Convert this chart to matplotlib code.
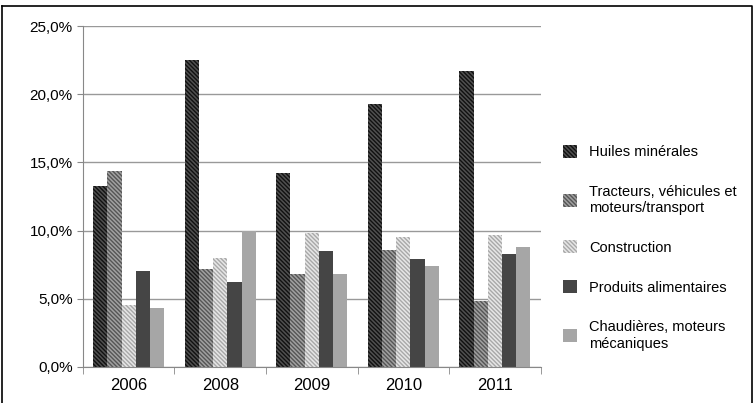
import numpy as np
import matplotlib.pyplot as plt
from matplotlib.ticker import FuncFormatter

years = ['2006', '2008', '2009', '2010', '2011']
huiles = [13.3, 22.5, 14.2, 19.3, 21.7]
tracteurs = [14.4, 7.2, 6.8, 8.6, 4.8]
construction = [4.5, 8.0, 9.8, 9.5, 9.7]
alimentaires = [7.0, 6.2, 8.5, 7.9, 8.3]
chaudieres = [4.3, 10.0, 6.8, 7.4, 8.8]

labels = ['Huiles minérales', 'Tracteurs, véhicules et\nmoteurs/transport',
          'Construction', 'Produits alimentaires',
          'Chaudières, moteurs\nmécaniques']
series = [huiles, tracteurs, construction, alimentaires, chaudieres]
styles = [('#505050', '#111111', '\\' * 8),
          ('#a0a0a0', '#555555', '\\' * 8),
          ('#e6e6e6', '#a8a8a8', '\\' * 8),
          ('#454545', '#454545', ''),
          ('#a6a6a6', '#a6a6a6', '')]

plt.rcParams['font.family'] = ['Liberation Sans', 'DejaVu Sans']
plt.rcParams['hatch.linewidth'] = 1.0
fig = plt.figure(figsize=(7.54, 4.03), dpi=100)
ax = fig.add_axes([0.11, 0.09, 0.607, 0.845])

x = np.arange(len(years))
w = 0.155
for i, (vals, (fc, ec, h)) in enumerate(zip(series, styles)):
    plt.rcParams['hatch.color'] = ec
    ax.bar(x + (i - 2) * w, vals, w, facecolor=fc, edgecolor=ec, hatch=h,
           linewidth=0, label=labels[i])

ax.set_ylim(0, 25)
ax.set_xlim(-0.5, 4.5)
ax.set_yticks(np.arange(0, 26, 5))
ax.yaxis.set_major_formatter(FuncFormatter(lambda v, p: f'{v:.1f}%'.replace('.', ',')))
ax.set_xticks(x)
ax.set_xticklabels(years, fontsize=12)
ax.set_xticks(np.arange(-0.5, 5, 1), minor=True)
ax.tick_params(axis='x', which='major', length=0, pad=8)
ax.tick_params(axis='x', which='minor', length=5, color='#888888')
ax.tick_params(axis='y', labelsize=11, length=4, color='#888888')
ax.grid(axis='y', color='#999999', linewidth=1)
ax.set_axisbelow(True)
for s in ['top', 'right']:
    ax.spines[s].set_visible(False)
for s in ['left', 'bottom']:
    ax.spines[s].set_color('#888888')

ax.legend(loc='center left', bbox_to_anchor=(1.02, 0.35), frameon=False,
          fontsize=10.5, labelspacing=1.75, handlelength=1.0, handleheight=1.0)

fig.add_artist(plt.Line2D([0.003, 0.997, 0.997], [0.985, 0.985, 0.0],
                          color='black', linewidth=1.2))
fig.add_artist(plt.Line2D([0.002, 0.002], [0.0, 0.985], color='black', linewidth=1.2))
fig.savefig('out.png')
